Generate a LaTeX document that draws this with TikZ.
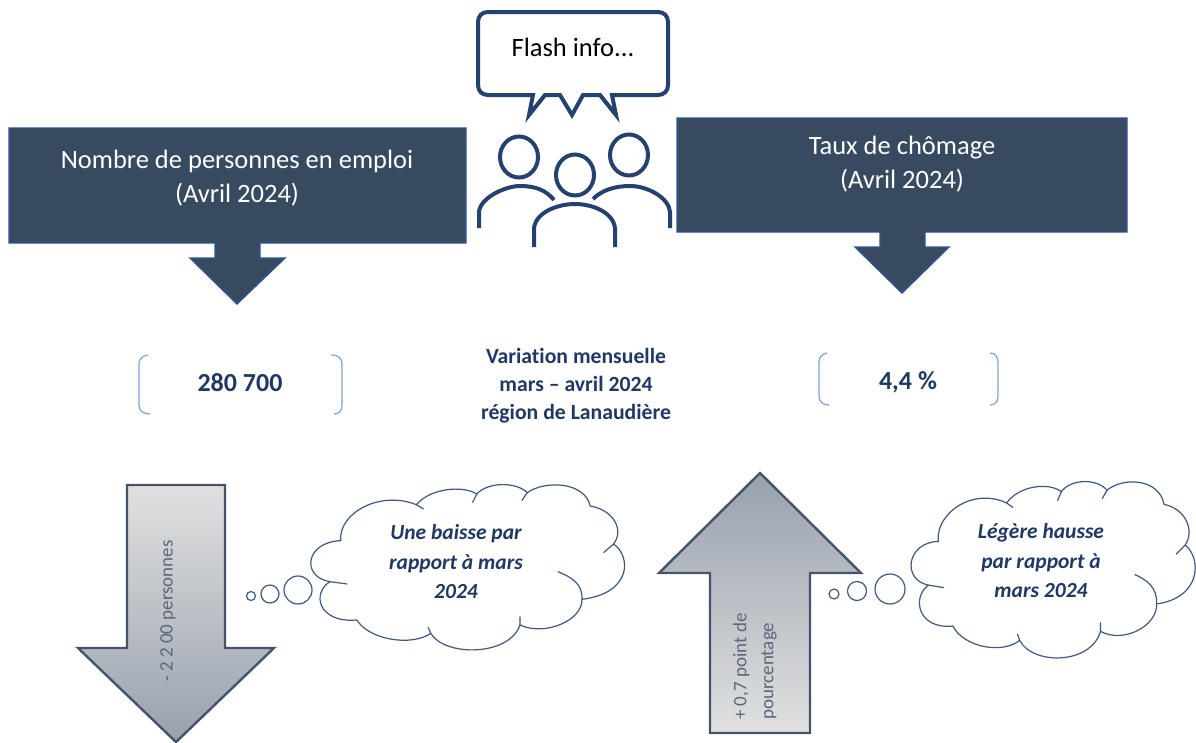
\documentclass[tikz,border=0pt]{standalone}
\usepackage{fontspec}
\setmainfont{Carlito}[Ligatures=CommonOff]
\definecolor{navy}{HTML}{1F3864}
\definecolor{slate}{HTML}{374A60}
\definecolor{edgeblue}{HTML}{2F5597}
\definecolor{iconblue}{HTML}{24416F}
\definecolor{brk}{HTML}{7F9FD6}
\definecolor{arrowedge}{HTML}{44546A}
\definecolor{cloudedge}{HTML}{3F5880}
\definecolor{grtext}{HTML}{5A6878}
\newcommand{\cloudoutline}{(752,212)
 .. controls (745,130) and (860,60) .. (962,104)
 .. controls (1000,55) and (1090,45) .. (1130,72)
 .. controls (1160,35) and (1240,35) .. (1270,68)
 .. controls (1320,30) and (1430,35) .. (1445,108)
 .. controls (1510,120) and (1540,180) .. (1510,222)
 .. controls (1560,260) and (1560,370) .. (1422,388)
 .. controls (1425,450) and (1320,500) .. (1250,465)
 .. controls (1220,560) and (1040,560) .. (1002,490)
 .. controls (950,530) and (830,510) .. (797,450)
 .. controls (690,460) and (670,370) .. (722,335)
 .. controls (640,320) and (655,215) .. (752,212) -- cycle}
\newcommand{\cloudfolds}{
 (962,104) -- (982,117)
 (1130,72) -- (1118,98)
 (1270,68) -- (1255,92)
 (1510,222) -- (1482,248)
 (1422,388) .. controls (1425,340) and (1390,320) .. (1355,305)
 (1250,465) -- (1250,440)
 (1002,490) -- (995,472)
 (722,335) -- (770,342)}
\tikzset{
 x=1pt,y=-1pt,
 headbox/.style={fill=slate,draw=edgeblue,line width=1.4pt},
 headtxt/.style={text=white,font=\fontsize{26.5}{34.5}\selectfont,align=center},
 bignum/.style={text=navy,font=\fontsize{26}{30}\bfseries\selectfont},
 brace/.style={draw=brk,line width=1.2pt},
 bigarrow/.style={draw=arrowedge,line width=2.4pt,line join=miter},
 cloudline/.style={draw=cloudedge,line width=1.2pt},
 cloudfill/.style={fill=white,draw=cloudedge,line width=1.2pt},
 cloudtxt/.style={text=navy,font=\fontsize{21.5}{29.5}\bfseries\itshape\selectfont,align=center},
 icon/.style={draw=iconblue,line width=4pt},
 rottxt/.style={text=grtext,font=\fontsize{19}{27}\selectfont,rotate=90,align=left,inner sep=0pt}
}
\begin{document}
\begin{tikzpicture}
\useasboundingbox (0,0) rectangle (1196,742);
% Speech bubble
\draw[icon,line join=miter,fill=white] (488,12) -- (658,12) .. controls (664,12) and (668,16) .. (668,22) -- (668,85) .. controls (668,91) and (664,95) .. (658,95)
 -- (612,95) -- (616,115) -- (600,95) -- (583,95) -- (572,115) -- (560,95) -- (545,95) -- (529,115) -- (533,95) -- (488,95)
 .. controls (482,95) and (478,91) .. (478,85) -- (478,22) .. controls (478,16) and (482,12) .. (488,12) -- cycle;
\node (flash) at (573,47) {\fontsize{26.5}{30}\selectfont Flash info...};
% People
\draw[icon] (519,157) ellipse[x radius=19,y radius=20.5];
\draw[icon] (575,175) ellipse[x radius=19,y radius=20.5];
\draw[icon] (629,155) ellipse[x radius=19,y radius=20.5];
\draw[icon] (479,228) -- (479,212) .. controls (480,198) and (505,186) .. (520,186) .. controls (535,186) and (546,190) .. (554,200);
\draw[icon] (534,247) -- (534,228) .. controls (536,212) and (558,204) .. (575,204) .. controls (592,204) and (613,212) .. (615,228) -- (615,247);
\draw[icon] (593,199) .. controls (602,190) and (615,186) .. (630,186) .. controls (648,186) and (669,198) .. (670,212) -- (670,228);
% Header boxes
\draw[headbox] (9,128) -- (466,128) -- (466,243) -- (260,243) -- (260,258) -- (285,258) -- (237,304) -- (190,258) -- (215,258) -- (215,243) -- (9,243) -- cycle;
\node[headtxt] (hleft) at (237,178) {Nombre de personnes en emploi\\(Avril 2024)};
\draw[headbox] (677,118) -- (1127,118) -- (1127,232) -- (925,232) -- (925,247) -- (949,247) -- (902,293) -- (855,247) -- (880,247) -- (880,232) -- (677,232) -- cycle;
\node[headtxt] (hright) at (902,164) {Taux de chômage\\(Avril 2024)};
% Brackets
\draw[brace] (148,355) .. controls (142,356) and (139,359) .. (139,364) -- (139,405) .. controls (139,411) and (143,414) .. (150,414);
\draw[brace] (331,355) .. controls (339,355) and (342,359) .. (342,364) -- (342,405) .. controls (342,411) and (339,414) .. (334,414);
\draw[brace] (827,353) .. controls (822,354) and (819,357) .. (819,362) -- (819,396) .. controls (819,402) and (823,405) .. (829,405);
\draw[brace] (990,353) .. controls (995,353) and (998,357) .. (998,362) -- (998,396) .. controls (998,402) and (995,405) .. (990,405);
\node[bignum] (nleft) at (240,383) {280 700};
\node[bignum] (nright) at (908,382) {4,4 \%};
\node[text=navy,align=center,font=\fontsize{21.7}{28}\bfseries\selectfont] (mid) at (576,386) {Variation mensuelle\\mars – avril 2024\\région de Lanaudière};
% Big arrows
\shade[top color=black!12,bottom color=arrowedge!55,bigarrow] (127,485) -- (225,485) -- (225,648) -- (274,648) -- (176,742) -- (78,648) -- (127,648) -- cycle;
\node[rottxt] (tleft) at (168,611) {- 2 2 00 personnes};
\shade[top color=arrowedge!55,bottom color=black!12,bigarrow] (760,473) -- (861,573) -- (810,573) -- (810,733) -- (710,733) -- (710,573) -- (659,573) -- cycle;
\node[rottxt,anchor=west] (tright) at (755,720) {+ 0,7 point de\\pourcentage};
% Clouds
\begin{scope}[shift={(70,470)},xscale=.36,yscale=.3333]
\draw[cloudfill] \cloudoutline;
\draw[cloudline] \cloudfolds;
\end{scope}
\node[cloudtxt] (cleft) at (456,562) {Une baisse par\\rapport à mars\\2024};
\draw[cloudline] (251,596) circle[radius=4.5] (270,594) circle[radius=9] (298,590) circle[radius=14];
\begin{scope}[shift={(693,466)},xscale=.326,yscale=.3556]
\draw[cloudfill] \cloudoutline;
\draw[cloudline] \cloudfolds;
\end{scope}
\node[cloudtxt] (cright) at (1041,561) {Légère hausse\\par rapport à\\mars 2024};
\draw[cloudline] (834,594) circle[radius=5] (857,591) circle[radius=9.5] (890,589) circle[radius=15];
\end{tikzpicture}
\end{document}
